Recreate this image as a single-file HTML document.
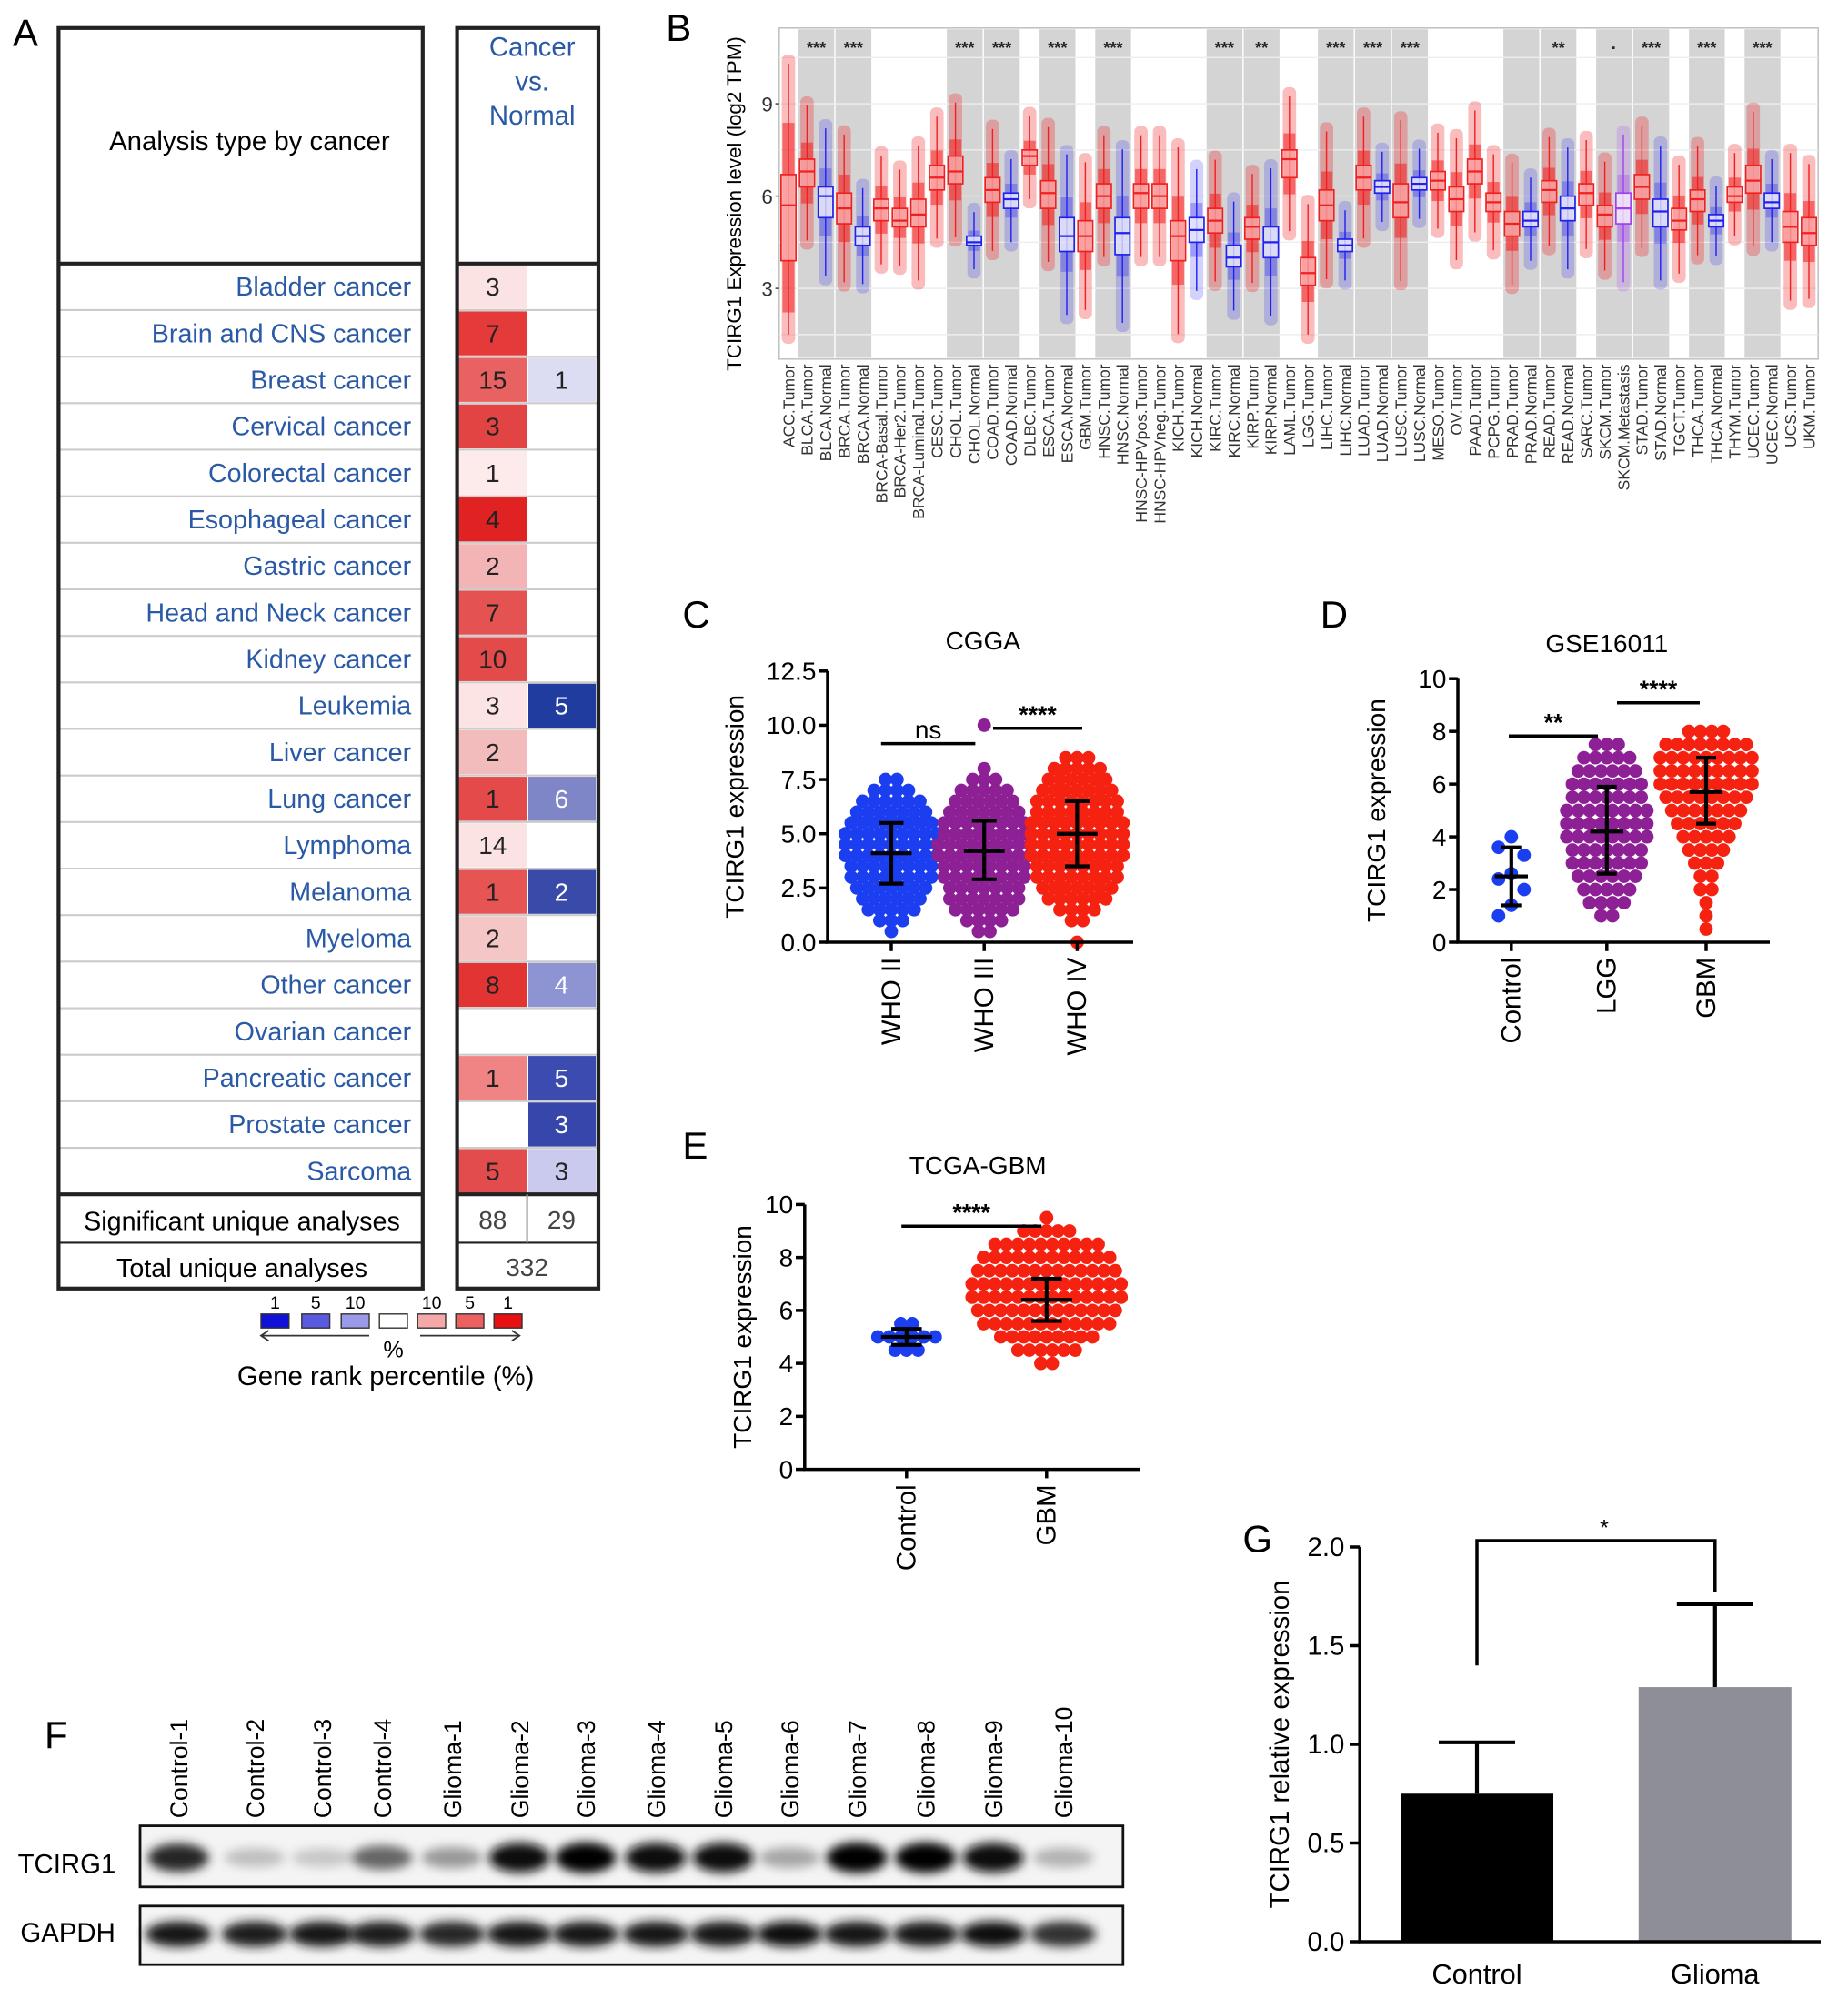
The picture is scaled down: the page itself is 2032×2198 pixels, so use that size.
<!DOCTYPE html>
<html><head><meta charset="utf-8"><style>
html,body{margin:0;padding:0;background:#fff;}
svg{display:block;font-family:"Liberation Sans",Arial,sans-serif;}
</style></head><body>
<svg id="fig" xmlns="http://www.w3.org/2000/svg" width="2032" height="2198" viewBox="0 0 1451.43 1570">
<defs><filter id="blur" x="-50%" y="-50%" width="200%" height="200%"><feGaussianBlur stdDeviation="4"/></filter></defs>
<g id="A"></g>
<g id="B"></g>
<g id="C"></g>
<g id="D"></g>
<g id="E"></g>
<g id="F"></g>
<g id="G"></g>
</svg>
<script>
// ---------- Panel A data ----------
const aCancers=["Bladder cancer","Brain and CNS cancer","Breast cancer","Cervical cancer","Colorectal cancer","Esophageal cancer","Gastric cancer","Head and Neck cancer","Kidney cancer","Leukemia","Liver cancer","Lung cancer","Lymphoma","Melanoma","Myeloma","Other cancer","Ovarian cancer","Pancreatic cancer","Prostate cancer","Sarcoma"];
const aUp=["3","7","15","3","1","4","2","7","10","3","2","1","14","1","2","8","","1","","5"];
const aUpColor=["#fbe3e3","#e53a3a","#e86262","#e24444","#fdeaea","#e02222","#f2b4b4","#e45252","#e34a4a","#fde4e4","#f3bcbc","#e54a4a","#fbe3e3","#e65454","#f4c6c6","#e33434","#ffffff","#f08484","#ffffff","#e24c4c"];
const aDown=["","","1","","","","","","","5","","6","","2","","4","","5","3","3"];
const aDownColor=["#fff","#fff","#dcdcf2","#fff","#fff","#fff","#fff","#fff","#fff","#1f3c9e","#fff","#7f86c8","#fff","#3a4aa8","#fff","#8e94d2","#fff","#3b4bb0","#3646aa","#cacaee"];
// ---------- Panel B data ----------
const bCats=["ACC.Tumor","BLCA.Tumor","BLCA.Normal","BRCA.Tumor","BRCA.Normal","BRCA-Basal.Tumor","BRCA-Her2.Tumor","BRCA-Luminal.Tumor","CESC.Tumor","CHOL.Tumor","CHOL.Normal","COAD.Tumor","COAD.Normal","DLBC.Tumor","ESCA.Tumor","ESCA.Normal","GBM.Tumor","HNSC.Tumor","HNSC.Normal","HNSC-HPVpos.Tumor","HNSC-HPVneg.Tumor","KICH.Tumor","KICH.Normal","KIRC.Tumor","KIRC.Normal","KIRP.Tumor","KIRP.Normal","LAML.Tumor","LGG.Tumor","LIHC.Tumor","LIHC.Normal","LUAD.Tumor","LUAD.Normal","LUSC.Tumor","LUSC.Normal","MESO.Tumor","OV.Tumor","PAAD.Tumor","PCPG.Tumor","PRAD.Tumor","PRAD.Normal","READ.Tumor","READ.Normal","SARC.Tumor","SKCM.Tumor","SKCM.Metastasis","STAD.Tumor","STAD.Normal","TGCT.Tumor","THCA.Tumor","THCA.Normal","THYM.Tumor","UCEC.Tumor","UCEC.Normal","UCS.Tumor","UKM.Tumor"];
const bMedian=[5.7,6.8,6.0,5.6,4.7,5.6,5.2,5.4,6.6,6.8,4.5,6.2,5.9,7.3,6.1,4.7,4.7,6.0,4.8,6.1,6.0,4.7,4.9,5.2,4.0,5.0,4.5,7.2,3.5,5.7,4.4,6.6,6.3,5.8,6.4,6.5,5.9,6.8,5.8,5.1,5.2,6.2,5.6,6.1,5.4,5.6,6.3,5.5,5.2,5.9,5.2,6.0,6.5,5.8,5.0,4.8];
const bQ1=[3.9,6.3,5.3,5.1,4.4,5.2,5.0,5.0,6.2,6.4,4.4,5.8,5.6,7.0,5.6,4.2,4.2,5.6,4.1,5.6,5.6,3.9,4.5,4.8,3.7,4.6,4.0,6.6,3.1,5.2,4.2,6.2,6.1,5.3,6.2,6.2,5.5,6.4,5.5,4.7,5.0,5.8,5.2,5.7,5.0,5.1,5.9,5.0,4.9,5.5,5.0,5.8,6.1,5.6,4.5,4.4];
const bQ3=[6.7,7.2,6.3,6.1,5.0,5.9,5.6,5.9,7.0,7.3,4.7,6.6,6.1,7.5,6.5,5.3,5.2,6.4,5.3,6.4,6.4,5.2,5.3,5.6,4.4,5.3,5.0,7.5,4.0,6.2,4.6,7.0,6.5,6.4,6.6,6.8,6.3,7.2,6.1,5.5,5.5,6.5,6.0,6.4,5.7,6.1,6.7,5.9,5.6,6.2,5.4,6.3,7.0,6.1,5.5,5.3];
const bType=["T","T","N","T","N","T","T","T","T","T","N","T","N","T","T","N","T","T","N","T","T","T","N","T","N","T","N","T","T","T","N","T","N","T","N","T","T","T","T","T","N","T","N","T","T","M","T","N","T","T","N","T","T","N","T","T"];
const bShadeStart=[1,3,9,11,14,17,23,25,29,31,33,39,41,44,46,49,52];
const bSigIndex=[1,3,9,11,14,17,23,25,29,31,33,41,44,46,49,52];
const bSigLabel=["***","***","***","***","***","***","***","**","***","***","***","**","·","***","***","***"];
const bTicks=[3,6,9];
// ---------- Panel C data (dot counts per 0.5 bin from 0) ----------
const cGroups=["WHO II","WHO III","WHO IV"];
const cCountsII=[0,1,3,5,6,7,8,8,9,9,9,8,7,6,4,2,0,0,0,0,0];
const cCountsIII=[0,2,4,6,7,7,8,8,9,9,8,8,7,6,5,3,1,0,0,0,1];
const cCountsIV=[1,0,2,4,6,7,8,8,9,9,9,9,8,8,7,6,5,3,0,0,0];
const cMean=[4.1,4.2,5.0];
const cLow=[2.7,2.9,3.5];
const cHigh=[5.5,5.6,6.5];
const cTicks=[0,2.5,5,7.5,10,12.5];
// ---------- Panel D data ----------
const dGroups=["Control","LGG","GBM"];
const dControlValues=[1.0,1.4,2.0,2.4,2.6,3.3,3.6,4.0];
const dCountsLGG=[0,0,2,4,5,6,7,7,8,8,8,7,7,6,5,3,0];
const dCountsGBM=[0,1,1,1,2,2,3,4,5,6,7,8,9,9,9,8,4];
const dMean=[2.5,4.2,5.7];
const dLow=[1.4,2.6,4.5];
const dHigh=[3.6,5.9,7.0];
const dTicks=[0,2,4,6,8,10];
// ---------- Panel E data ----------
const eGroups=["Control","GBM"];
const eCountsControl=[0,0,0,0,0,0,0,0,0,3,6,2,0,0,0,0,0,0,0,0];
const eCountsGBM=[0,0,0,0,0,0,0,0,2,6,9,12,13,14,14,13,12,10,5,1];
const eMean=[5.0,6.4];
const eLow=[4.7,5.6];
const eHigh=[5.3,7.2];
const eTicks=[0,2,4,6,8,10];
// ---------- Panel F data ----------
const fLanes=["Control-1","Control-2","Control-3","Control-4","Glioma-1","Glioma-2","Glioma-3","Glioma-4","Glioma-5","Glioma-6","Glioma-7","Glioma-8","Glioma-9","Glioma-10"];
const fTcirg1=[0.85,0.25,0.22,0.6,0.4,0.95,1,0.95,0.95,0.35,1,1,0.95,0.3];
const fGapdh=[0.9,0.88,0.92,0.88,0.85,0.92,0.92,0.92,0.92,0.94,0.9,0.92,0.95,0.8];
// ---------- Panel G data ----------
const gCats=["Control","Glioma"];
const gValues=[0.75,1.29];
const gErrors=[1.01,1.71];
const gTicks=[0.0,0.5,1.0,1.5,2.0];

const NS="http://www.w3.org/2000/svg";
function mk(parent,tag,attrs,text){const e=document.createElementNS(NS,tag);for(const k in attrs)e.setAttribute(k,attrs[k]);if(text!==undefined)e.textContent=text;parent.appendChild(e);return e;}
const blueT="#2a5aa6";

// ================= Panel A =================
(function(){
const g=document.getElementById('A');
let t=mk(g,'text',{x:10,y:36,'font-size':30});t.textContent='A';


const top=207,rh=36.55;
for(let i=0;i<aCancers.length;i++){
 const y=top+i*rh;
 let l=mk(g,'line',{x1:46,x2:332,y1:y+rh,y2:y+rh,stroke:'#ccc','stroke-width':1.5});
 
 
 let tx=mk(g,'text',{x:323,y:y+rh/2+7,'font-size':20.5,'text-anchor':'end',fill:blueT},aCancers[i]);
 
 
 let c1=mk(g,'rect',{x:360,y:y+1,width:54,height:rh-2,fill:aUpColor[i]});
 
 
 let c2=mk(g,'rect',{x:415,y:y+1,width:53,height:rh-2,fill:aDownColor[i]});
 
 
 let n1=mk(g,'text',{x:387,y:y+rh/2+7,'font-size':20,'text-anchor':'middle',fill:'#222'},aUp[i]);
 
 
 let n2=mk(g,'text',{x:441,y:y+rh/2+7,'font-size':20,'text-anchor':'middle',fill:['5','6','2','4','3'].includes(aDown[i])&&aDownColor[i]!=='#cacaee'?'#fff':'#222'},aDown[i]);
 
 
 let l2=mk(g,'line',{x1:359,x2:470,y1:y+rh,y2:y+rh,stroke:'#ccc','stroke-width':1.5});
 
 
}
[[46,22,286,990],[359,22,111,990]].forEach(b=>{let r=mk(g,'rect',{x:b[0],y:b[1],width:b[2],height:b[3],fill:'none',stroke:'#222','stroke-width':3});
 
 });
[[46,332,207],[359,470,207],[46,332,938],[359,470,938],[46,332,976],[359,470,976]].forEach(b=>{let l=mk(g,'line',{x1:b[0],x2:b[1],y1:b[2],y2:b[2],stroke:'#222','stroke-width':b[2]===976?1.5:3});
 
 });
let v=mk(g,'line',{x1:414,x2:414,y1:938,y2:976,stroke:'#999','stroke-width':1.5});


t=mk(g,'text',{x:196,y:118,'font-size':21,'text-anchor':'middle'},'Analysis type by cancer');


['Cancer','vs.','Normal'].forEach((s,i)=>{let h=mk(g,'text',{x:418,y:44+i*27,'font-size':21,'text-anchor':'middle',fill:blueT},s);
 
 });
t=mk(g,'text',{x:190,y:966,'font-size':20.5,'text-anchor':'middle'},'Significant unique analyses');


t=mk(g,'text',{x:190,y:1003,'font-size':20.5,'text-anchor':'middle'},'Total unique analyses');


t=mk(g,'text',{x:387,y:965,'font-size':20,'text-anchor':'middle',fill:'#444'},'88');


t=mk(g,'text',{x:441,y:965,'font-size':20,'text-anchor':'middle',fill:'#444'},'29');


t=mk(g,'text',{x:414,y:1002,'font-size':20,'text-anchor':'middle',fill:'#444'},'332');


const legC=['#1010d8','#5a5ae0','#9a9ae8','#ffffff','#f4a8a8','#ec6060','#e81010'];
const legL=['1','5','10','','10','5','1'];
const legX=[205,237,268,298,328,358,388];
legC.forEach((c,i)=>{let r=mk(g,'rect',{x:legX[i],y:1032,width:22,height:11,fill:c,stroke:'#333','stroke-width':1});
 
 
 let tt=mk(g,'text',{x:legX[i]+11,y:1028,'font-size':14,'text-anchor':'middle'},legL[i]);
 
 });
let ar=mk(g,'path',{d:'M290 1049 H205 M211 1045 L205 1049 L211 1053 M330 1049 H408 M402 1045 L408 1049 L402 1053',stroke:'#333',fill:'none','stroke-width':1.3});


t=mk(g,'text',{x:309,y:1066,'font-size':18,'text-anchor':'middle'},'%');


t=mk(g,'text',{x:303,y:1088,'font-size':21,'text-anchor':'middle'},'Gene rank percentile (%)');


})();

// ================= Panel B =================
(function(){
const g=document.getElementById('B');
const x0=612,x1=1428,yTop=22,yBot=282;
const bw=(x1-x0)/bCats.length;
const yS=v=>154-(v-6)*24.17;
const xC=i=>x0+(i+0.5)*bw;
let t=mk(g,'text',{x:523,y:32,'font-size':30},'B');


let bg=mk(g,'rect',{x:x0,y:yTop,width:x1-x0,height:yBot-yTop,fill:'#fff',stroke:'#bbb','stroke-width':1});


bShadeStart.forEach(s=>{let r=mk(g,'rect',{x:x0+s*bw+0.5,y:yTop+1,width:2*bw-1,height:yBot-yTop-2,fill:'#d4d4d4'});
 
 });
for(let v=1.5;v<=10.5;v+=1.5){let l=mk(g,'line',{x1:x0,x2:x1,y1:yS(v),y2:yS(v),stroke:'#eee','stroke-width':1});
 
 }
bTicks.forEach(v=>{let tt=mk(g,'text',{x:x0-5,y:yS(v)+6,'font-size':16,'text-anchor':'end',fill:'#333'},String(v));
 
 
 let tk=mk(g,'line',{x1:x0-3,x2:x0,y1:yS(v),y2:yS(v),stroke:'#333'});
 
 });
t=mk(g,'text',{x:0,y:0,'font-size':16,'text-anchor':'middle',transform:`translate(582,${(yTop+yBot)/2+8}) rotate(-90)`},'TCIRG1 Expression level (log2 TPM)');


bCats.forEach((c,i)=>{
 const col=bType[i]==='T'?'#f02020':bType[i]==='N'?'#2020f0':'#a040f0';
 const iqr=bQ3[i]-bQ1[i];
 const lo=Math.max(bQ1[i]-1.6*iqr-0.6,1.2), hi=Math.min(bQ3[i]+1.6*iqr+0.6,10.6);
 let cl=mk(g,'rect',{x:xC(i)-bw*0.36,y:yS(hi),width:bw*0.72,height:yS(lo)-yS(hi),rx:bw*0.3,fill:col,opacity:bType[i]==='T'?0.3:0.2});
 
 
 let core=mk(g,'rect',{x:xC(i)-bw*0.32,y:yS(bQ3[i]+iqr*0.6),width:bw*0.64,height:yS(bQ1[i]-iqr*0.6)-yS(bQ3[i]+iqr*0.6),fill:col,opacity:bType[i]==='T'?0.55:0.3});
 
 
 let w=mk(g,'line',{x1:xC(i),x2:xC(i),y1:yS(hi-0.3),y2:yS(lo+0.3),stroke:col,'stroke-width':1});
 
 
 let bx=mk(g,'rect',{x:xC(i)-bw*0.4,y:yS(bQ3[i]),width:bw*0.8,height:yS(bQ1[i])-yS(bQ3[i]),fill:bType[i]==='T'?'rgba(255,200,200,0.6)':'rgba(255,255,255,0.7)',stroke:col,'stroke-width':1.2});
 
 
 let md=mk(g,'line',{x1:xC(i)-bw*0.4,x2:xC(i)+bw*0.4,y1:yS(bMedian[i]),y2:yS(bMedian[i]),stroke:col,'stroke-width':1.6});
 
 
 let lb=mk(g,'text',{x:0,y:0,'font-size':12.5,'text-anchor':'end',fill:'#333',transform:`translate(${xC(i)+4.5},${yBot+4}) rotate(-90)`},c);
 
 
});
bSigIndex.forEach((s,k)=>{let tt=mk(g,'text',{x:x0+(s+1)*bw,y:42,'font-size':13,'font-weight':'bold','text-anchor':'middle',fill:'#222'},bSigLabel[k]);
 
 });
})();

// ========= dot-plot helpers =========
function swarm(g,counts,binW,xc,yS,col,sp,r){
 counts.forEach((n,b)=>{
  const v=b*binW;
  for(let j=0;j<n;j++){
   const x=xc+(j-(n-1)/2)*sp;
   let c=mk(g,'circle',{cx:x,cy:yS(v),r:r,fill:col});
   
   
  }
 });
}
function errbar(g,x,yS,m,lo,hi,hw){
 let p=mk(g,'path',{d:`M${x} ${yS(hi)} V${yS(lo)} M${x-hw*0.6} ${yS(hi)} H${x+hw*0.6} M${x-hw*0.6} ${yS(lo)} H${x+hw*0.6} M${x-hw} ${yS(m)} H${x+hw}`,stroke:'#000','stroke-width':3,fill:'none'});
 
 
}
function axes(g,ax,ayTop,ayBot,ax1,ticks,yS,fmt,xs,labels,ylab,ylabX){
 let a=mk(g,'path',{d:`M${ax} ${ayTop} V${ayBot} H${ax1}`,stroke:'#000','stroke-width':2.5,fill:'none'});
 
 
 ticks.forEach(v=>{let tk=mk(g,'line',{x1:ax-7,x2:ax,y1:yS(v),y2:yS(v),stroke:'#000','stroke-width':2.5});
  
  
  let tt=mk(g,'text',{x:ax-9,y:yS(v)+7,'font-size':20,'text-anchor':'end'},fmt(v));
  
  });
 xs.forEach((x,i)=>{let tk=mk(g,'line',{x1:x,x2:x,y1:ayBot,y2:ayBot+7,stroke:'#000','stroke-width':2.5});
  
  
  let tt=mk(g,'text',{x:0,y:0,'font-size':21,'text-anchor':'end',transform:`translate(${x+7},${ayBot+12}) rotate(-90)`},labels[i]);
  
  });
 let yl=mk(g,'text',{x:0,y:0,'font-size':20,'text-anchor':'middle',transform:`translate(${ylabX},${(ayTop+ayBot)/2}) rotate(-90)`},ylab);
 
 
}
function sig(g,x1,x2,y,lab){
 let l=mk(g,'line',{x1:x1,x2:x2,y1:y,y2:y,stroke:'#000','stroke-width':2.5});
 
 
 let t=mk(g,'text',{x:(x1+x2)/2,y:y-4,'font-size':lab==='ns'?20:19,'text-anchor':'middle','font-weight':lab==='ns'?'normal':'bold'},lab);
 
 
}
function title(g,x,y,s,name){let t=mk(g,'text',{x:x,y:y,'font-size':20,'text-anchor':'middle'},s);
 
 }
function letter(g,x,y,s){let t=mk(g,'text',{x:x,y:y,'font-size':30},s);
 
 }

// Panel C
(function(){
const g=document.getElementById('C');
const yS=v=>740-v*(213/12.5);
const xs=[700,773,846];
letter(g,536,493,'C');
title(g,772,510,'CGGA','chart-title');
swarm(g,cCountsII,0.5,xs[0],yS,'#1a3ef0',9,5.3);
swarm(g,cCountsIII,0.5,xs[1],yS,'#8e2096',9,5.3);
swarm(g,cCountsIV,0.5,xs[2],yS,'#f52212',9,5.3);
[0,1,2].forEach(i=>errbar(g,xs[i],yS,cMean[i],cLow[i],cHigh[i],16));
axes(g,650,527,740,890,cTicks,yS,v=>v.toFixed(1),xs,cGroups,'TCIRG1 expression',584);
sig(g,692,766,584,'ns');
sig(g,780,850,572,'****');
})();
// Panel D
(function(){
const g=document.getElementById('D');
const yS=v=>740-v*20.7;
const xs=[1187,1262,1340];
letter(g,1037,493,'D');
title(g,1262,512,'GSE16011','chart-title');
dControlValues.forEach((v,i)=>{let c=mk(g,'circle',{cx:xs[0]+((i%3)-1)*10,cy:yS(v),r:5.3,fill:'#1a3ef0'});
 
 });
swarm(g,dCountsLGG,0.5,xs[1],yS,'#8e2096',9,5.3);
swarm(g,dCountsGBM,0.5,xs[2],yS,'#f52212',9,5.3);
[0,1,2].forEach(i=>errbar(g,xs[i],yS,dMean[i],dLow[i],dHigh[i],13));
axes(g,1145,533,740,1390,dTicks,yS,v=>String(v),xs,dGroups,'TCIRG1 expression',1088);
sig(g,1185,1255,578,'**');
sig(g,1270,1335,552,'****');
})();
// Panel E
(function(){
const g=document.getElementById('E');
const yS=v=>1154-v*20.8;
const xs=[712,822];
letter(g,536,910,'E');
title(g,768,922,'TCGA-GBM','chart-title');
swarm(g,eCountsControl,0.5,xs[0],yS,'#1a3ef0',9,5.3);
swarm(g,eCountsGBM,0.5,xs[1],yS,'#f52212',9,5.3);
[0,1].forEach(i=>errbar(g,xs[i],yS,eMean[i],eLow[i],eHigh[i],20));
axes(g,632,946,1154,895,eTicks,yS,v=>String(v),xs,eGroups,'TCIRG1 expression',590);
sig(g,708,818,963,'****');
})();

// Panel F
(function(){
const g=document.getElementById('F');
letter(g,35,1373,'F');
const lx=[140,200,253,300,355,408,460,515,568,620,673,727,780,835];
let r1=mk(g,'rect',{x:110,y:1434,width:772,height:48,fill:'#f4f4f4',stroke:'#111','stroke-width':2});


let r2=mk(g,'rect',{x:110,y:1497,width:772,height:46,fill:'#f4f4f4',stroke:'#111','stroke-width':2});


fLanes.forEach((s,i)=>{
 let t=mk(g,'text',{x:0,y:0,'font-size':19,'text-anchor':'start',transform:`translate(${lx[i]+7},${1428}) rotate(-90)`},s);
 
 
 const c1=Math.round(255*(1-fTcirg1[i]));
 let b=mk(g,'ellipse',{cx:lx[i],cy:1459,rx:24,ry:6+6*fTcirg1[i],fill:`rgb(${c1},${c1},${c1})`,filter:'url(#blur)'});
 
 
 const c2=Math.round(255*(1-fGapdh[i]));
 let b2=mk(g,'ellipse',{cx:lx[i],cy:1519,rx:26,ry:10,fill:`rgb(${c2},${c2},${c2})`,filter:'url(#blur)'});
 
 
});
let t=mk(g,'text',{x:14,y:1471,'font-size':21},'TCIRG1');


t=mk(g,'text',{x:16,y:1525,'font-size':21},'GAPDH');


})();

// Panel G
(function(){
const g=document.getElementById('G');
const yS=v=>1525-v*155;
const xs=[1160,1347];
letter(g,976,1219,'G');
gCats.forEach((c,i)=>{
 let e=mk(g,'path',{d:`M${xs[i]} ${yS(gValues[i])} V${yS(gErrors[i])} M${xs[i]-30} ${yS(gErrors[i])} H${xs[i]+30}`,stroke:'#000','stroke-width':3,fill:'none'});
 
 
 let b=mk(g,'rect',{x:xs[i]-60,y:yS(gValues[i]),width:120,height:yS(0)-yS(gValues[i]),fill:i?'#8e8e96':'#000'});
 
 
 let t=mk(g,'text',{x:xs[i],y:1558,'font-size':22,'text-anchor':'middle'},c);
 
 
});
let a=mk(g,'path',{d:'M1068 1215 V1525 H1430',stroke:'#000','stroke-width':2.5,fill:'none'});


gTicks.forEach(v=>{let tk=mk(g,'line',{x1:1060,x2:1068,y1:yS(v),y2:yS(v),stroke:'#000','stroke-width':2.5});
 
 
 let tt=mk(g,'text',{x:1056,y:yS(v)+7,'font-size':21,'text-anchor':'end'},v.toFixed(1));
 
 });
let yl=mk(g,'text',{x:0,y:0,'font-size':21,'text-anchor':'middle',transform:'translate(1012,1370) rotate(-90)'},'TCIRG1 relative expression');


let br=mk(g,'path',{d:`M${xs[0]} ${yS(1.4)} V1210 H${xs[1]} V1250`,stroke:'#000','stroke-width':2.5,fill:'none'});


let st=mk(g,'text',{x:1260,y:1206,'font-size':18,'text-anchor':'middle'},'*');


})();
</script>
</body></html>
